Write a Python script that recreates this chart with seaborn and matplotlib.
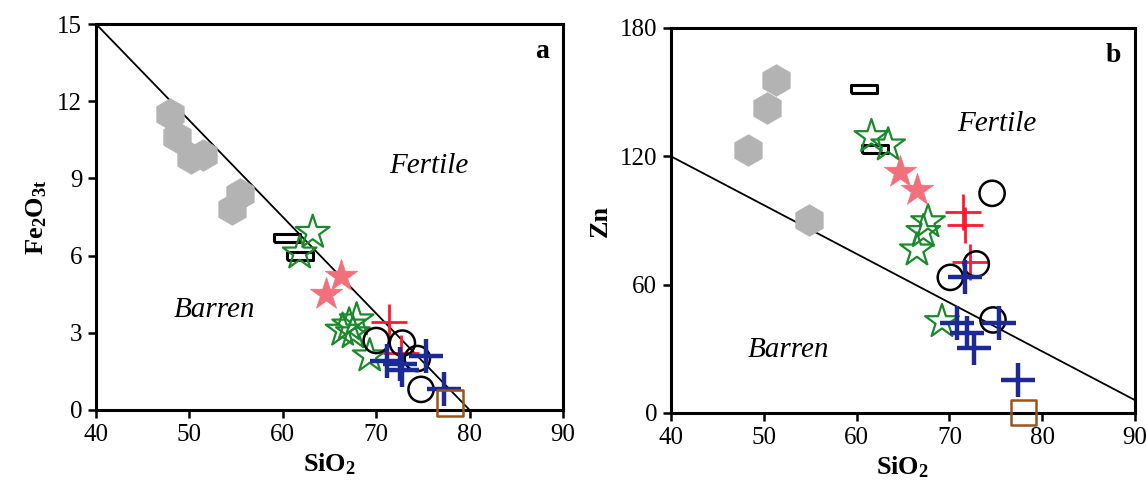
import numpy as np
import pandas as pd
import matplotlib
matplotlib.use("Agg")
import matplotlib.pyplot as plt
import seaborn as sns

# ---- panel a : SiO2 vs Fe2O3t ----
hex_a_x = [47.9, 48.7, 50.2, 51.4, 55.4, 54.6]
hex_a_y = [11.5, 10.6, 9.8, 9.9, 8.4, 7.8]
rect_a_x = [60.4, 61.8]
rect_a_y = [6.7, 6.0]
ostar_a_x = [63.2, 61.8, 67.1, 67.9, 66.4, 67.5, 69.3]
ostar_a_y = [6.9, 6.1, 3.3, 3.5, 3.1, 3.0, 2.1]
fstar_a_x = [66.2, 64.6]
fstar_a_y = [5.2, 4.5]
rplus_a_x = [71.4, 72.7]
rplus_a_y = [3.4, 2.2]
circ_a_x = [70.0, 72.8, 74.4, 74.8]
circ_a_y = [2.7, 2.6, 2.0, 0.8]
bplus_a_x = [71.1, 72.5, 72.8, 75.3, 77.3]
bplus_a_y = [1.9, 1.8, 1.55, 2.1, 0.8]
sq_a_x = [77.9]
sq_a_y = [0.27]

# ---- panel b : SiO2 vs Zn ----
hex_b_x = [51.3, 50.4, 48.3, 54.9]
hex_b_y = [155.7, 142.4, 123.0, 90.2]
rect_b_x = [60.8, 62.0]
rect_b_y = [151.3, 123.4]
ostar_b_x = [61.6, 63.4, 67.7, 67.2, 66.5, 69.2]
ostar_b_y = [129.2, 125.3, 89.4, 84.8, 76.2, 42.7]
fstar_b_x = [64.7, 66.5]
fstar_b_y = [112.8, 104.3]
rplus_b_x = [71.5, 71.7, 72.2]
rplus_b_y = [94.1, 87.9, 70.7]
circ_b_x = [74.6, 72.9, 70.1, 74.7]
circ_b_y = [102.7, 69.7, 63.4, 43.5]
bplus_b_x = [71.7, 70.8, 71.9, 72.6, 75.3, 77.4]
bplus_b_y = [63.7, 41.9, 37.3, 30.2, 41.9, 15.4]
sq_b_x = [78.0]
sq_b_y = [0.3]

# discrimination lines (end points)
line_a_x = [40, 80]
line_a_y = [15, 0]
line_b_x = [40, 90]
line_b_y = [120, 6]

sns.set_style("ticks")
plt.rcParams["font.family"] = ["Liberation Serif", "DejaVu Serif"]
plt.rcParams["mathtext.fontset"] = "custom"
plt.rcParams["mathtext.rm"] = "Liberation Serif"
plt.rcParams["mathtext.bf"] = "Liberation Serif:bold"
plt.rcParams["mathtext.it"] = "Liberation Serif:italic"
for k in ["text.color", "axes.labelcolor", "xtick.color", "ytick.color", "axes.edgecolor"]:
    plt.rcParams[k] = "black"

rect_marker = [(-1.6, -0.45), (1.6, -0.45), (1.6, 0.45), (-1.6, 0.45), (-1.6, -0.45)]

styles = {
    "hex": dict(marker="h", s=520, color="#b3b3b3", edgecolor="#b3b3b3", linewidth=0.5),
    "rect": dict(marker=rect_marker, s=330, facecolor="white", edgecolor="black", linewidth=2.2),
    "ostar": dict(marker="*", s=650, facecolor="none", edgecolor="#1a8a2a", linewidth=1.6),
    "fstar": dict(marker="*", s=600, color="#f2707c", edgecolor="#f2707c", linewidth=0.5),
    "rplus": dict(marker="+", s=650, color="#ff1a2e", linewidth=2.0),
    "circ": dict(marker="o", s=330, facecolor="none", edgecolor="black", linewidth=1.8),
    "bplus": dict(marker="+", s=600, color="#1c2a96", linewidth=3.2),
    "sq": dict(marker="s", s=330, facecolor="none", edgecolor="#9a5418", linewidth=1.8),
}

panel_a = {
    "hex": (hex_a_x, hex_a_y), "rect": (rect_a_x, rect_a_y),
    "ostar": (ostar_a_x, ostar_a_y), "fstar": (fstar_a_x, fstar_a_y),
    "rplus": (rplus_a_x, rplus_a_y), "circ": (circ_a_x, circ_a_y),
    "bplus": (bplus_a_x, bplus_a_y), "sq": (sq_a_x, sq_a_y),
}
panel_b = {
    "hex": (hex_b_x, hex_b_y), "rect": (rect_b_x, rect_b_y),
    "ostar": (ostar_b_x, ostar_b_y), "fstar": (fstar_b_x, fstar_b_y),
    "rplus": (rplus_b_x, rplus_b_y), "circ": (circ_b_x, circ_b_y),
    "bplus": (bplus_b_x, bplus_b_y), "sq": (sq_b_x, sq_b_y),
}

fig = plt.figure(figsize=(11.46, 4.92), dpi=100)
ax_a = fig.add_axes([0.0838, 0.1667, 0.4075, 0.7845])
ax_b = fig.add_axes([0.5855, 0.1606, 0.4049, 0.7825])


def draw_panel(ax, groups, line_x, line_y, ylim, yticks, ylabel, letter,
               fert_xy, barren_xy):
    ax.plot(line_x, line_y, color="black", linewidth=1.3, zorder=1)
    for key, (xs, ys) in groups.items():
        df = pd.DataFrame({"x": xs, "y": ys})
        sns.scatterplot(data=df, x="x", y="y", ax=ax, legend=False,
                        zorder=3, clip_on=False, **styles[key])
    ax.set_xlim(40, 90)
    ax.set_ylim(*ylim)
    ax.set_xticks([40, 50, 60, 70, 80, 90])
    ax.set_yticks(yticks)
    ax.tick_params(direction="out", length=6, width=1.8, labelsize=18,
                   pad=4, colors="black")
    for sp in ax.spines.values():
        sp.set_linewidth(2.2)
        sp.set_color("black")
        sp.set_visible(True)
    ax.set_xlabel("SiO$_\\mathbf{2}$", fontsize=19, fontweight="bold", labelpad=4)
    ax.set_ylabel(ylabel, fontsize=19, fontweight="bold", labelpad=6)
    ax.text(0.97, 0.96, letter, transform=ax.transAxes, ha="right", va="top",
            fontsize=20, fontweight="bold")
    ax.text(*fert_xy, "Fertile", fontsize=21, style="italic", ha="center", va="center")
    ax.text(*barren_xy, "Barren", fontsize=21, style="italic", ha="center", va="center")


draw_panel(ax_a, panel_a, line_a_x, line_a_y, (0, 15), [0, 3, 6, 9, 12, 15],
           "Fe$_\\mathbf{2}$O$_\\mathbf{3t}$", "a", (75.6, 9.5), (52.7, 3.9))
draw_panel(ax_b, panel_b, line_b_x, line_b_y, (0, 180), [0, 60, 120, 180],
           "Zn", "b", (75.1, 135), (52.7, 29.5))

fig.savefig("out.png", dpi=100)
